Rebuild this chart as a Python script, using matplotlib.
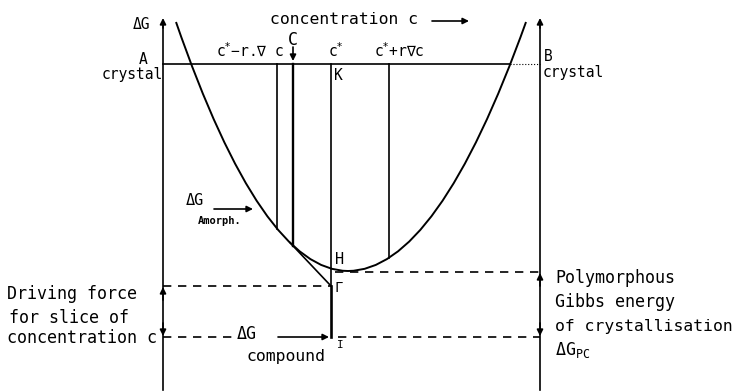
import matplotlib.pyplot as plt
from matplotlib.path import Path
from matplotlib.patches import PathPatch

# Gibbs energy schematic, drawn in a pixel-like frame (y grows downwards)
c_A, c_B = 163, 540            # pure crystal A and B on the concentration axis
G_crystal = 64                 # level of the crystal line A-B
axis_top, axis_bottom = 20, 390

# concentrations marked on the diagram
c_minus = 277                  # c* - r.grad c
c_slice = 293                  # C
c_star = 331                   # c*
c_plus = 389                   # c* + r grad c

# amorphous Gibbs energy curve: left end, minimum, right end
amorph_left = (176, 22)
amorph_min = (348, 271)
amorph_right = (526, 22)

# energy levels at c*
G_H = 272                      # polymorphous (amorphous) level
G_Gamma = 286                  # tangent construction
G_I = 337                      # compound
c_tangent = 290                # where the tangent leaves the curve

FONT = "DejaVu Sans Mono"


def amorph_G(c):
    # each half is a quadratic Bezier with its control point halfway in c,
    # so the parameter is linear in c
    if c <= amorph_min[0]:
        (x0, y0), (x1, y1) = amorph_left, amorph_min
    else:
        (x0, y0), (x1, y1) = amorph_min, amorph_right
    t = (c - x0) / (x1 - x0)
    yc = amorph_min[1]
    return (1 - t) ** 2 * y0 + 2 * t * (1 - t) * yc + t ** 2 * y1


fig = plt.figure(figsize=(7.32, 3.92), dpi=100)
ax = fig.add_axes([0, 0, 1, 1])
ax.set_xlim(0, 732)
ax.set_ylim(392, 0)
ax.axis("off")

lw = 1.2
arrow = dict(arrowstyle="-|>", color="black", lw=lw, mutation_scale=9,
             shrinkA=0, shrinkB=0)

# energy axes at A and B
for x in (c_A, c_B):
    ax.plot([x, x], [axis_bottom, axis_top + 6], color="black", lw=lw)
    ax.annotate("", xy=(x, axis_top - 2), xytext=(x, axis_top + 8),
                arrowprops=arrow)

# crystal line
ax.plot([c_A, 510], [G_crystal, G_crystal], color="black", lw=lw)
ax.plot([510, c_B], [G_crystal, G_crystal], color="black", lw=0.8, ls=":")

# amorphous curve
verts = [amorph_left,
         ((amorph_left[0] + amorph_min[0]) / 2, amorph_min[1]),
         amorph_min,
         ((amorph_min[0] + amorph_right[0]) / 2, amorph_min[1]),
         amorph_right]
codes = [Path.MOVETO, Path.CURVE3, Path.CURVE3, Path.CURVE3, Path.CURVE3]
ax.add_patch(PathPatch(Path(verts, codes), fill=False, lw=1.4, color="black"))

# slices down to the curve
for c in (c_minus, c_plus):
    ax.plot([c, c], [G_crystal, amorph_G(c)], color="black", lw=lw)
ax.plot([c_slice, c_slice], [G_crystal, amorph_G(c_slice)], color="black", lw=1.7)
ax.annotate("", xy=(c_slice, 61), xytext=(c_slice, 47), arrowprops=arrow)

# c* construction
ax.plot([c_star, c_star], [G_crystal, G_Gamma], color="black", lw=lw)
ax.plot([c_star, c_star], [G_Gamma, G_I], color="black", lw=1.9)
ax.plot([c_tangent, c_star], [amorph_G(c_tangent), G_Gamma], color="black", lw=1.2)

# dashed reference levels
dash = dict(color="black", lw=1.2, ls=(0, (5, 4)))
ax.plot([c_A, c_star], [G_Gamma, G_Gamma], **dash)
ax.plot([c_star + 4, c_B], [G_H, G_H], **dash)
ax.plot([c_A, 233], [G_I, G_I], **dash)
ax.plot([c_star + 7, c_B], [G_I, G_I], **dash)
ax.annotate("", xy=(c_star - 2, G_I), xytext=(278, G_I), arrowprops=arrow)

# driving force and polymorphous energy arrows on the axes
for x, top, bottom in ((c_A, G_Gamma, G_I), (c_B, G_H, G_I)):
    ax.annotate("", xy=(x, top + 1), xytext=(x, top + 14), arrowprops=arrow)
    ax.annotate("", xy=(x, bottom - 1), xytext=(x, bottom - 14), arrowprops=arrow)

# labels
txt = dict(family=FONT, color="black", va="center")
ax.text(150, 24, "ΔG", ha="right", fontsize=10.5, **txt)
ax.text(270, 19, "concentration c", ha="left", fontsize=11.8, **txt)
ax.annotate("", xy=(469, 21), xytext=(432, 21), arrowprops=arrow)
ax.text(143, 59, "A", ha="center", fontsize=10.5, **txt)
ax.text(163, 74, "crystal", ha="right", fontsize=10.5, **txt)
ax.text(544, 56, "B", ha="left", fontsize=10.5, **txt)
ax.text(543, 72, "crystal", ha="left", fontsize=10.5, **txt)
ax.text(284, 51, r"c$^{*}$−r.∇ c", ha="right", fontsize=10.5, **txt)
ax.text(c_slice, 40, "C", ha="center", fontsize=12, **txt)
ax.text(328, 51, r"c$^{*}$", ha="left", fontsize=10.5, **txt)
ax.text(334, 75, "K", ha="left", fontsize=10.5, **txt)
ax.text(374, 51, r"c$^{*}$+r∇c", ha="left", fontsize=10.5, **txt)
ax.text(186, 200, "ΔG", ha="left", fontsize=11, **txt)
ax.annotate("", xy=(253, 209), xytext=(214, 209), arrowprops=arrow)
ax.text(198, 221, "Amorph.", ha="left", fontsize=7.5, weight="bold", **txt)
ax.text(335, 259, "H", ha="left", fontsize=11, **txt)
ax.text(335, 288, "Γ", ha="left", fontsize=10, **txt)
ax.text(337, 345, "I", ha="left", fontsize=8, **txt)
ax.text(237, 334, "ΔG", ha="left", fontsize=12, **txt)
ax.text(246, 357, "compound", ha="left", fontsize=11.8, **txt)
ax.text(7, 294, "Driving force", ha="left", fontsize=12, **txt)
ax.text(9, 318, "for slice of", ha="left", fontsize=12, **txt)
ax.text(7, 338, "concentration c", ha="left", fontsize=12, **txt)
ax.text(555, 278, "Polymorphous", ha="left", fontsize=12, **txt)
ax.text(555, 302, "Gibbs energy", ha="left", fontsize=12, **txt)
ax.text(555, 327, "of crystallisation", ha="left", fontsize=11.8, **txt)
ax.text(555, 350, r"ΔG$_{\mathtt{PC}}$", ha="left", fontsize=12, **txt)

fig.savefig("out.png", dpi=100)
